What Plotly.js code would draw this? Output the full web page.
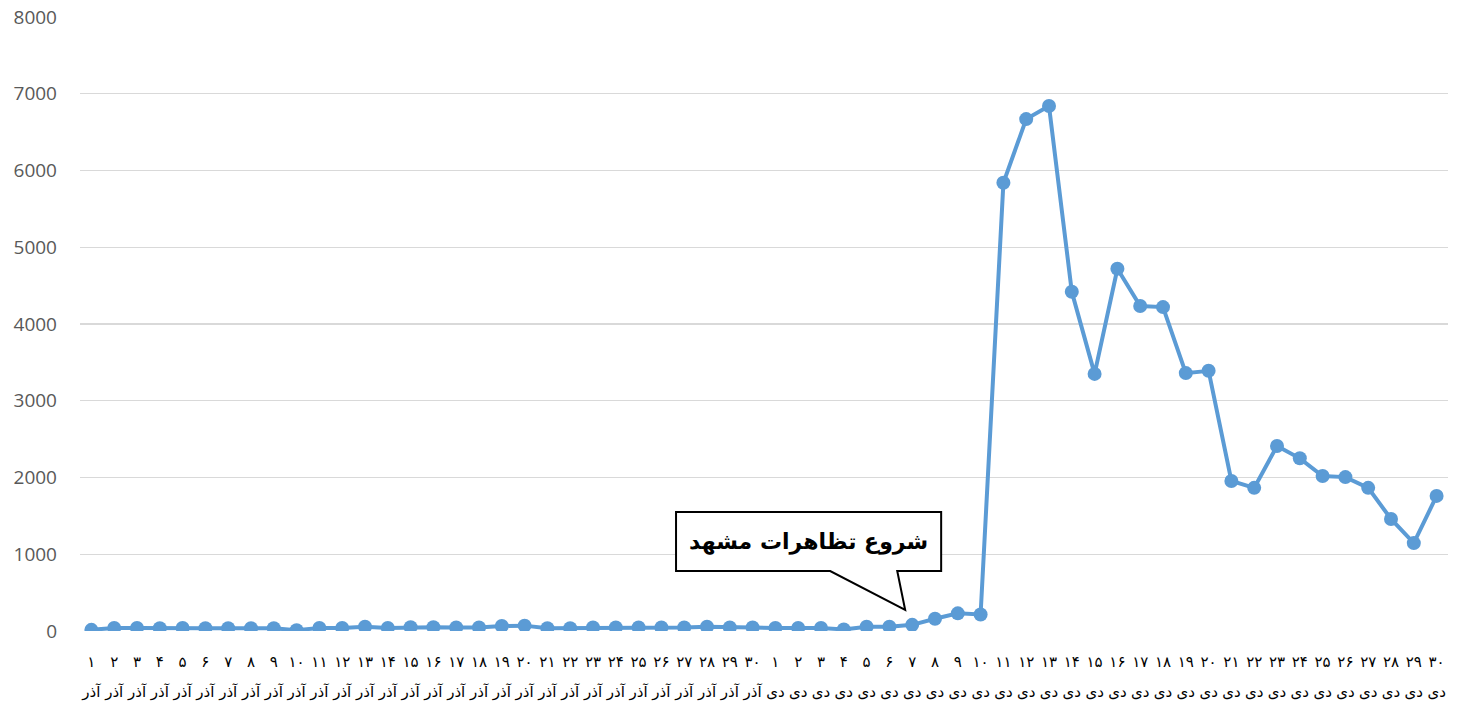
<!DOCTYPE html>
<html>
<head>
<meta charset="utf-8">
<script src="https://cdn.plot.ly/plotly-3.0.1.min.js"></script>
<style>html,body{margin:0;padding:0;background:#fff;}#chart{width:1464px;height:705px;}</style>
</head>
<body>
<div id="chart"></div>
<script>
const azarDays = [1,2,3,4,5,6,7,8,9,10,11,12,13,14,15,16,17,18,19,20,21,22,23,24,25,26,27,28,29,30];
const deyDays  = [1,2,3,4,5,6,7,8,9,10,11,12,13,14,15,16,17,18,19,20,21,22,23,24,25,26,27,28,29,30];
const monthAzar = "آذر";
const monthDey = "دی";
const azarValues = [15,40,40,35,40,35,35,35,35,10,40,40,55,40,50,50,45,45,65,70,35,35,45,45,45,45,45,55,45,45];
const deyValues  = [40,40,40,20,55,55,80,160,230,215,5840,6670,6840,4420,3350,4720,4235,4220,3360,3390,1955,1865,2410,2250,2020,2005,1865,1460,1145,1760];
const yTicks = [0,1000,2000,3000,4000,5000,6000,7000,8000];
const calloutText = "شروع تظاهرات مشهد";

const faDigits = "۰۱۲۳۴۵۶۷۸۹";
const fa = n => String(n).split("").map(c => faDigits[+c]).join("");
const cats = azarDays.map(d => fa(d) + " " + monthAzar).concat(deyDays.map(d => fa(d) + " " + monthDey));
const dayLabels = azarDays.map(fa).concat(deyDays.map(fa));
const monthLabels = azarDays.map(() => monthAzar).concat(deyDays.map(() => monthDey));
const vals = azarValues.concat(deyValues);

const trace = {
  x: cats, y: vals, type: "scatter", mode: "lines+markers",
  line: {color: "#5b9bd5", width: 4},
  marker: {color: "#5b9bd5", size: 14},
  hoverinfo: "x+y"
};
const ghost = {
  x: cats, y: vals, type: "scatter", mode: "markers", xaxis: "x2",
  marker: {opacity: 0, size: 1}, hoverinfo: "skip"
};

const xfont = {family: "DejaVu Sans, Noto Sans", size: 15, color: "#000"};
const layout = {
  width: 1464, height: 705,
  margin: {l: 80, r: 16, t: 17, b: 74},
  paper_bgcolor: "#fff", plot_bgcolor: "#fff",
  showlegend: false,
  xaxis: {
    type: "category", range: [-0.5, 59.5],
    categoryorder: "array", categoryarray: cats,
    tickvals: cats, ticktext: dayLabels,
    showgrid: false, zeroline: false, showline: false,
    ticks: "", ticklabelstandoff: 20, tickangle: 0,
    tickfont: xfont
  },
  xaxis2: {
    type: "category", range: [-0.5, 59.5], overlaying: "x", side: "bottom", anchor: "y",
    categoryorder: "array", categoryarray: cats,
    tickvals: cats, ticktext: monthLabels,
    showgrid: false, zeroline: false, showline: false,
    ticks: "", ticklabelstandoff: 50, tickangle: 0,
    tickfont: xfont
  },
  yaxis: {
    range: [0, 8000], tickvals: yTicks, ticktext: yTicks.map(String),
    showgrid: true, gridcolor: "#d9d9d9", gridwidth: 1.3,
    zeroline: false, showline: false, ticks: "",
    ticklabelstandoff: 22,
    tickfont: {family: "Open Sans, Liberation Sans", size: 19, color: "#595959"}
  },
  shapes: [{
    type: "path", xref: "paper", yref: "paper",
    path: "M 0.4357 0.1938 L 0.6295 0.1938 L 0.6295 0.0977 L 0.5974 0.0977 L 0.6032 0.0342 L 0.5484 0.0977 L 0.4357 0.0977 Z",
    fillcolor: "#fff", line: {color: "#000", width: 2}
  }],
  annotations: [{
    xref: "paper", yref: "paper", x: 0.5326, y: 0.1457,
    xanchor: "center", yanchor: "middle",
    text: "<b>" + calloutText + "</b>", showarrow: false,
    font: {family: "DejaVu Sans, Noto Sans", size: 22, color: "#000"}
  }]
};

Plotly.newPlot("chart", [trace, ghost], layout, {displayModeBar: false, staticPlot: true});
</script>
</body>
</html>
